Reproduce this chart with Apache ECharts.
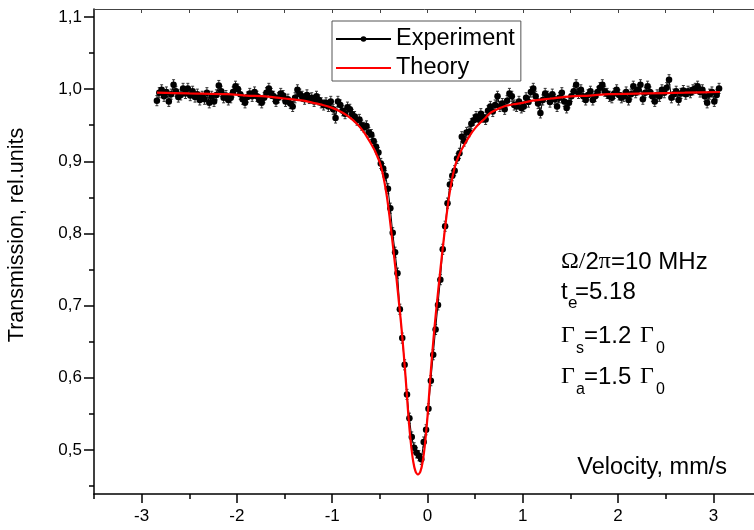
<!DOCTYPE html>
<html>
<head>
<meta charset="utf-8">
<script src="https://cdn.jsdelivr.net/npm/echarts@6/dist/echarts.min.js"></script>
<style>
html, body { margin: 0; padding: 0; background: #fff; }
#chart { width: 754px; height: 530px; }
</style>
</head>
<body>
<div id="chart"></div>
<script>
// B data
// velocity grid of the measured spectrum, mm/s
var velocity = [
  -2.840, -2.815, -2.790, -2.765, -2.740, -2.715, -2.690, -2.665, -2.640, -2.615,
  -2.590, -2.565, -2.540, -2.515, -2.490, -2.465, -2.440, -2.415, -2.390, -2.365,
  -2.340, -2.315, -2.290, -2.265, -2.240, -2.215, -2.190, -2.165, -2.140, -2.115,
  -2.090, -2.065, -2.040, -2.015, -1.990, -1.965, -1.940, -1.915, -1.890, -1.865,
  -1.840, -1.815, -1.790, -1.765, -1.740, -1.715, -1.690, -1.665, -1.640, -1.615,
  -1.590, -1.565, -1.540, -1.515, -1.490, -1.465, -1.440, -1.415, -1.390, -1.365,
  -1.340, -1.315, -1.290, -1.265, -1.240, -1.215, -1.190, -1.165, -1.140, -1.115,
  -1.090, -1.065, -1.040, -1.015, -0.990, -0.965, -0.940, -0.915, -0.890, -0.865,
  -0.840, -0.815, -0.790, -0.765, -0.740, -0.715, -0.690, -0.665, -0.640, -0.615,
  -0.590, -0.565, -0.540, -0.515, -0.490, -0.465, -0.440, -0.415, -0.390, -0.365,
  -0.340, -0.315, -0.290, -0.265, -0.240, -0.215, -0.190, -0.165, -0.140, -0.115,
  -0.090, -0.065, -0.040, -0.015, 0.010, 0.035, 0.060, 0.085, 0.110, 0.135,
  0.160, 0.185, 0.210, 0.235, 0.260, 0.285, 0.310, 0.335, 0.360, 0.385,
  0.410, 0.435, 0.460, 0.485, 0.510, 0.535, 0.560, 0.585, 0.610, 0.635,
  0.660, 0.685, 0.710, 0.735, 0.760, 0.785, 0.810, 0.835, 0.860, 0.885,
  0.910, 0.935, 0.960, 0.985, 1.010, 1.035, 1.060, 1.085, 1.110, 1.135,
  1.160, 1.185, 1.210, 1.235, 1.260, 1.285, 1.310, 1.335, 1.360, 1.385,
  1.410, 1.435, 1.460, 1.485, 1.510, 1.535, 1.560, 1.585, 1.610, 1.635,
  1.660, 1.685, 1.710, 1.735, 1.760, 1.785, 1.810, 1.835, 1.860, 1.885,
  1.910, 1.935, 1.960, 1.985, 2.010, 2.035, 2.060, 2.085, 2.110, 2.135,
  2.160, 2.185, 2.210, 2.235, 2.260, 2.285, 2.310, 2.335, 2.360, 2.385,
  2.410, 2.435, 2.460, 2.485, 2.510, 2.535, 2.560, 2.585, 2.610, 2.635,
  2.660, 2.685, 2.710, 2.735, 2.760, 2.785, 2.810, 2.835, 2.860, 2.885,
  2.910, 2.935, 2.960, 2.985, 3.010, 3.035, 3.060
]
// measured transmission
var transmission = [
  0.984, 0.995, 0.999, 0.990, 0.996, 0.983, 0.993, 1.006, 0.997, 0.989,
  0.992, 1.001, 0.994, 1.001, 0.991, 0.997, 0.989, 0.993, 0.985, 0.990,
  0.986, 0.995, 0.981, 0.990, 0.983, 0.992, 1.005, 0.997, 0.988, 0.991,
  0.985, 0.988, 0.996, 1.004, 1.000, 0.993, 0.986, 0.981, 0.989, 0.994,
  0.990, 0.996, 0.990, 0.985, 0.981, 0.988, 0.995, 1.001, 0.994, 0.990,
  0.983, 0.988, 0.994, 0.991, 0.983, 0.986, 0.980, 0.976, 0.988, 0.999,
  0.993, 0.990, 0.986, 0.992, 0.987, 0.988, 0.983, 0.990, 0.985, 0.981,
  0.978, 0.981, 0.976, 0.983, 0.972, 0.960, 0.983, 0.978, 0.970, 0.966,
  0.975, 0.972, 0.965, 0.962, 0.957, 0.958, 0.950, 0.947, 0.949, 0.940,
  0.937, 0.928, 0.920, 0.912, 0.897, 0.890, 0.880, 0.862, 0.835, 0.801,
  0.774, 0.745, 0.695, 0.655, 0.618, 0.577, 0.544, 0.518, 0.503, 0.496,
  0.492, 0.487, 0.511, 0.528, 0.557, 0.596, 0.632, 0.667, 0.701, 0.736,
  0.778, 0.810, 0.842, 0.868, 0.880, 0.887, 0.904, 0.911, 0.934, 0.928,
  0.940, 0.941, 0.952, 0.957, 0.962, 0.958, 0.966, 0.961, 0.958, 0.970,
  0.976, 0.969, 0.978, 0.990, 0.976, 0.980, 0.972, 0.984, 0.994, 0.990,
  0.978, 0.976, 0.983, 0.974, 0.976, 0.988, 0.982, 0.996, 1.001, 0.990,
  0.980, 0.967, 0.985, 0.994, 0.990, 0.982, 0.993, 0.986, 0.976, 0.988,
  0.995, 0.983, 0.974, 0.981, 0.990, 0.997, 1.006, 0.994, 0.999, 0.990,
  0.985, 0.992, 0.997, 0.985, 0.990, 0.996, 1.002, 1.006, 0.997, 0.994,
  0.990, 0.988, 0.994, 0.999, 0.992, 0.988, 0.990, 0.996, 0.985, 0.993,
  1.004, 0.995, 0.999, 1.006, 0.986, 0.995, 1.004, 0.996, 0.990, 0.983,
  0.992, 0.990, 0.999, 0.995, 1.002, 1.013, 0.988, 0.993, 0.997, 0.985,
  0.994, 0.998, 0.993, 0.997, 0.995, 0.999, 1.001, 1.004, 0.996, 0.999,
  0.990, 0.981, 0.993, 0.996, 0.983, 0.992, 1.001
]
// half length of the error bars
var errorHalf = 0.007

// theory curve
var theoryVelocity = [
  -2.84, -2.5, -2.1, -1.9, -1.7, -1.5, -1.3, -1.2, -1.1, -1.0,
  -0.9, -0.85, -0.8, -0.75, -0.7, -0.65, -0.6, -0.55, -0.5, -0.475,
  -0.45, -0.425, -0.4, -0.375, -0.35, -0.325, -0.3, -0.275, -0.25, -0.225,
  -0.2, -0.175, -0.15, -0.125, -0.1, -0.075, -0.05, -0.025, 0, 0.025,
  0.05, 0.075, 0.1, 0.125, 0.15, 0.175, 0.2, 0.225, 0.25, 0.275,
  0.3, 0.35, 0.4, 0.45, 0.5, 0.55, 0.6, 0.65, 0.7, 0.8,
  0.9, 1.0, 1.1, 1.3, 1.5, 1.7, 1.9, 2.3, 2.7, 3.07
]
var theoryTransmission = [
  0.995, 0.994, 0.993, 0.991, 0.990, 0.987, 0.984, 0.981, 0.978, 0.974,
  0.968, 0.964, 0.959, 0.953, 0.946, 0.937, 0.926, 0.914, 0.898, 0.886,
  0.870, 0.850, 0.825, 0.797, 0.768, 0.737, 0.705, 0.672, 0.634, 0.592,
  0.546, 0.510, 0.484, 0.470, 0.466, 0.470, 0.484, 0.510, 0.546, 0.592,
  0.634, 0.672, 0.705, 0.737, 0.768, 0.797, 0.825, 0.850, 0.870, 0.886,
  0.898, 0.914, 0.926, 0.937, 0.946, 0.953, 0.959, 0.966, 0.970, 0.976,
  0.979, 0.981, 0.984, 0.987, 0.990, 0.991, 0.993, 0.994, 0.995, 0.996
]

// axis ticks
var xMajorTicks = [-3, -2, -1, 0, 1, 2, 3]
var xMinorTicks = [-3.5, -2.5, -1.5, -0.5, 0.5, 1.5, 2.5, 3.5]
var yMajorTicks = [0.5, 0.6, 0.7, 0.8, 0.9, 1.0, 1.1]
var yMinorTicks = [0.45, 0.55, 0.65, 0.75, 0.85, 0.95, 1.05]
// E data

var sans = 'Liberation Sans, Arial, sans-serif'
var serif = 'Liberation Serif, Times New Roman, serif'
var xMin = -3.5, xMax = 3.5, yMin = 0.439, yMax = 1.111

var expPoints = []
var errPoints = []
for (var i = 0; i < velocity.length; i++) {
  expPoints.push([velocity[i], transmission[i]])
  errPoints.push([velocity[i], transmission[i], errorHalf])
}
var theoryPoints = []
for (var j = 0; j < theoryVelocity.length; j++) {
  theoryPoints.push([theoryVelocity[j], theoryTransmission[j]])
}

// 只画刻度的辅助轴
function tickAxis (pos, ticks, len, inside, color, width, lineShow) {
  return {
    type: 'value', min: xMin, max: xMax, position: pos,
    axisLine: { show: !!lineShow, onZero: false, lineStyle: { color: color, width: width } },
    axisTick: { show: true, inside: inside, length: len, customValues: ticks, lineStyle: { color: color, width: width } },
    axisLabel: { show: false },
    splitLine: { show: false }
  }
}

// B text next to the curve
function txt (x, y, s, size, family, align) {
  return {
    type: 'text', x: x, y: y, z: 100,
    style: { text: s, fontSize: size, fontFamily: family || sans, fill: '#000', verticalAlign: 'middle', align: align || 'left' }
  }
}
var F = 24, FS = 16
var notes = [
  {
    type: 'text', x: 561, y: 262, z: 100,
    style: {
      text: '{g|Ω/}2{g|π}=10 MHz', fontSize: F, fontFamily: sans, fill: '#000', verticalAlign: 'middle',
      rich: { g: { fontSize: F, fontFamily: serif } }
    }
  },
  txt(561, 292, 't', F), txt(568, 303, 'e', FS + 1), txt(575, 292, '=5.18', F),
  txt(561, 336, 'Γ', F, serif), txt(576, 349, 's', FS), txt(584, 336, '=1.2', F),
  txt(640, 336, 'Γ', F, serif), txt(656, 349, '0', FS),
  txt(561, 377, 'Γ', F, serif), txt(576, 390, 'a', FS), txt(584, 377, '=1.5', F),
  txt(640, 377, 'Γ', F, serif), txt(656, 390, '0', FS),
  txt(727, 468, 'Velocity, mm/s', 23.5, sans, 'right'),
  {
    type: 'text', x: 17, y: 235, rotation: Math.PI / 2, z: 100,
    style: { text: 'Transmission, rel.units', fontSize: 21.5, fontFamily: sans, fill: '#000', verticalAlign: 'middle', align: 'center' }
  }
]
// E text next to the curve

var chart = echarts.init(document.getElementById('chart'))

var option = {
  animation: false,
  backgroundColor: '#fff',
  grid: { left: 94, top: 9, width: 667, height: 485, containLabel: false, outerBoundsMode: 'none' },
  legend: {
    left: 332, top: 21,
    orient: 'vertical',
    padding: [6, 6, 1, 3],
    itemWidth: 55, itemHeight: 7, itemGap: 5,
    borderColor: '#555', borderWidth: 1,
    backgroundColor: '#fff',
    textStyle: { fontSize: 23.5, fontFamily: sans, color: '#000', lineHeight: 23 },
    data: [
      { name: 'Experiment' },
      { name: 'Theory', itemStyle: { opacity: 0 } }
    ]
  },
  xAxis: [
    {
      type: 'value', min: xMin, max: xMax, position: 'bottom',
      axisLine: { show: true, onZero: false, lineStyle: { color: '#000', width: 1.5 } },
      axisTick: { show: true, inside: false, length: 9, customValues: xMajorTicks, lineStyle: { color: '#000', width: 1.5 } },
      axisLabel: { show: true, customValues: xMajorTicks, margin: 14, fontSize: 17, fontFamily: sans, color: '#000',
        formatter: function (v) { return String(v) } },
      splitLine: { show: false }
    },
    tickAxis('bottom', xMinorTicks, 5, false, '#000', 1.5, false),
    tickAxis('top', xMajorTicks.concat(xMinorTicks), 4, true, '#444', 1, true)
  ],
  yAxis: [
    {
      type: 'value', min: yMin, max: yMax, position: 'left',
      axisLine: { show: true, onZero: false, lineStyle: { color: '#000', width: 1.5 } },
      axisTick: { show: true, inside: false, length: 10, customValues: yMajorTicks, lineStyle: { color: '#000', width: 1.5 } },
      axisLabel: { show: true, customValues: yMajorTicks, margin: 12, fontSize: 17, fontFamily: sans, color: '#000',
        formatter: function (v) { return v.toFixed(1).replace('.', ',') } },
      splitLine: { show: false }
    },
    {
      type: 'value', min: yMin, max: yMax, position: 'left',
      axisLine: { show: false, onZero: false }, axisLabel: { show: false }, splitLine: { show: false },
      axisTick: { show: true, inside: false, length: 5, customValues: yMinorTicks, lineStyle: { color: '#000', width: 1.5 } }
    }
  ],
  series: [
    {
      name: 'errors',
      type: 'custom',
      xAxisIndex: 0, yAxisIndex: 0,
      z: 2,
      silent: true,
      data: errPoints,
      renderItem: function (params, api) {
        var x = api.value(0), y = api.value(1), e = api.value(2)
        var hi = api.coord([x, y + e])
        var lo = api.coord([x, y - e])
        return {
          type: 'group',
          children: [
            { type: 'line', shape: { x1: hi[0], y1: hi[1], x2: lo[0], y2: lo[1] }, style: { stroke: '#333', lineWidth: 1 } },
            { type: 'line', shape: { x1: hi[0] - 1.5, y1: hi[1], x2: hi[0] + 1.5, y2: hi[1] }, style: { stroke: '#333', lineWidth: 1 } },
            { type: 'line', shape: { x1: lo[0] - 1.5, y1: lo[1], x2: lo[0] + 1.5, y2: lo[1] }, style: { stroke: '#333', lineWidth: 1 } }
          ]
        }
      }
    },
    {
      name: 'Experiment',
      type: 'line',
      xAxisIndex: 0, yAxisIndex: 0,
      z: 3,
      data: expPoints,
      symbol: 'circle', symbolSize: 6.5,
      itemStyle: { color: '#000' },
      lineStyle: { color: '#000', width: 1 }
    },
    {
      name: 'Theory',
      type: 'line',
      xAxisIndex: 0, yAxisIndex: 0,
      z: 4,
      data: theoryPoints,
      symbol: 'none',
      smooth: 0.25,
      itemStyle: { color: '#ff0000' },
      lineStyle: { color: '#ff0000', width: 2.2 }
    }
  ],
  graphic: notes
}

chart.setOption(option)
</script>
</body>
</html>
